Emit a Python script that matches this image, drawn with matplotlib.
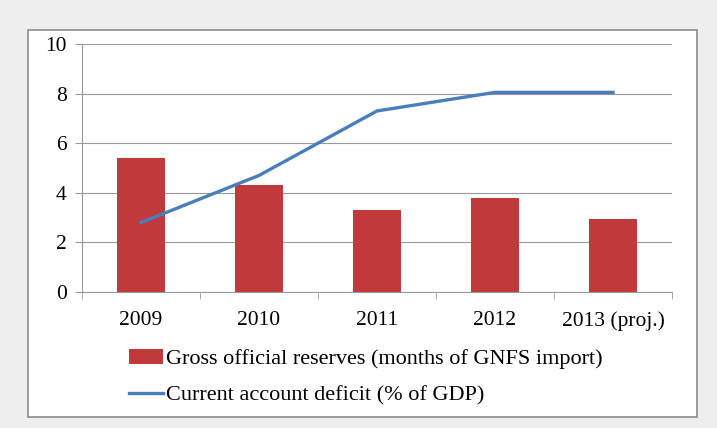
import matplotlib
matplotlib.use('Agg')
import matplotlib.pyplot as plt
from matplotlib.patches import Rectangle
import numpy as np

# Data
years = ['2009', '2010', '2011', '2012', '2013 (proj.)']
reserves = [5.4, 4.3, 3.3, 3.8, 2.95]
deficit = [2.8, 4.7, 7.3, 8.05, 8.05]
yticks = [0, 2, 4, 6, 8, 10]

plt.rcParams['font.family'] = ['Liberation Serif', 'DejaVu Serif']

fig = plt.figure(figsize=(7.17, 4.28), dpi=100)
fig.patch.set_facecolor('#eeeeee')

# white panel with gray border, behind the axes
panel = Rectangle((28 / 717, 1 - 417 / 428), 669 / 717, 387 / 428,
                  transform=fig.transFigure, facecolor='white',
                  edgecolor='#8c8c8c', linewidth=1.2, zorder=-10)
fig.add_artist(panel)

ax = fig.add_axes([82 / 717, 1 - 292 / 428, 590 / 717, 248 / 428])
ax.set_facecolor('none')

x = np.arange(len(years))
bars = ax.bar(x, reserves, width=0.4, color='#c0393b', zorder=2,
              label='Gross official reserves (months of GNFS import)')
line, = ax.plot(x, deficit, color='#4a7ebb', linewidth=2.4, zorder=3,
                label='Current account deficit (% of GDP)')

ax.set_xlim(-0.5, len(years) - 0.5)
ax.set_ylim(0, 10)
ax.set_yticks(yticks)
ax.set_yticklabels([str(v) for v in yticks], fontsize=15.5)
ax.set_xticks(x)
ax.set_xticklabels(years, fontsize=15.5)
ax.set_xticks(np.arange(-0.5, len(years)), minor=True)
ax.tick_params(axis='x', which='major', length=0, pad=14)
ax.tick_params(axis='x', which='minor', length=5, color='#999999')
ax.tick_params(axis='y', length=5, color='#999999', pad=6)

ax.grid(axis='y', color='#999999', linewidth=0.8, zorder=1)
for side in ['top', 'right']:
    ax.spines[side].set_visible(False)
ax.spines['left'].set_color('#999999')
ax.spines['bottom'].set_color('#999999')

fig.legend([bars, line], [bars.get_label(), line.get_label()],
           loc='upper left', bbox_to_anchor=(120 / 717, 1 - 340 / 428),
           frameon=False, fontsize=16, handlelength=1.55, handletextpad=0.1,
           labelspacing=0.7, borderaxespad=0)

fig.savefig('out.png', dpi=100, facecolor=fig.get_facecolor())
